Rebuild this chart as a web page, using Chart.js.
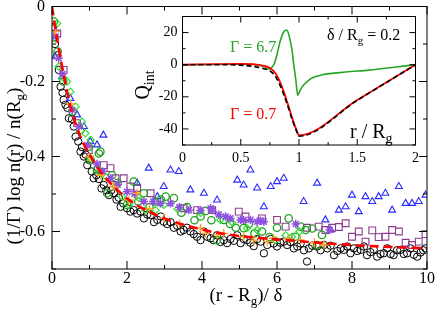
<!DOCTYPE html>
<html><head><meta charset="utf-8">
<script src="https://cdn.jsdelivr.net/npm/chart.js@4/dist/chart.umd.min.js"></script>
<style>
html,body{margin:0;padding:0;background:#fff;}
#wrap{position:relative;width:436px;height:310px;overflow:hidden;}
#main{position:absolute;left:0;top:0;width:436px;height:310px;}
#inset{position:absolute;left:128px;top:8px;width:297px;height:162px;}
</style></head><body>
<div id="wrap"><canvas id="main" width="436" height="310"></canvas><canvas id="inset" width="297" height="162"></canvas></div>
<script>
// ---------- main panel data ----------
const fitX = [0,0.1,0.25,0.5,0.75,1.0,1.25,1.5,1.75,2.0,2.5,3.0,3.5,4.0,4.5,5.0,5.5,6.0,7.0,8.0,9.0,10.0];
const fitY = [0,-0.065,-0.15,-0.27,-0.345,-0.395,-0.435,-0.465,-0.49,-0.512,-0.543,-0.565,-0.582,-0.595,-0.605,-0.612,-0.617,-0.621,-0.629,-0.636,-0.641,-0.645];

const blackX = [0.02,0.08,0.14,0.18,0.23,0.28,0.31,0.36,0.41,0.45,0.53,0.58,0.63,0.70,0.76,0.80,0.85,0.90,0.94,1.00,1.06,1.11,1.18,1.25,1.32,1.38,1.45,1.52,1.58,1.65,1.72,1.78,1.83,1.90,2.00,2.09,2.18,2.27,2.36,2.45,2.54,2.63,2.72,2.81,2.90,2.98,3.07,3.16,3.25,3.34,3.43,3.51,3.60,3.69,3.78,3.87,3.96,4.05,4.14,4.23,4.31,4.40,4.49,4.58,4.67,4.76,4.85,4.94,5.03,5.11,5.20,5.29,5.38,5.47,5.56,5.65,5.74,5.83,5.91,6.00,6.09,6.18,6.27,6.36,6.45,6.54,6.63,6.72,6.80,6.85,6.94,7.07,7.16,7.25,7.34,7.43,7.52,7.61,7.70,7.78,7.87,7.96,8.05,8.14,8.23,8.32,8.40,8.49,8.58,8.67,8.76,8.85,8.94,9.03,9.11,9.20,9.29,9.38,9.47,9.56,9.65,9.74,9.83,9.90,9.96];
const blackY = [-0.055,-0.10,-0.13,-0.169,-0.214,-0.23,-0.249,-0.262,-0.27,-0.298,-0.30,-0.32,-0.347,-0.36,-0.387,-0.375,-0.40,-0.395,-0.423,-0.41,-0.44,-0.458,-0.45,-0.46,-0.485,-0.476,-0.49,-0.503,-0.49,-0.498,-0.515,-0.51,-0.534,-0.525,-0.538,-0.547,-0.543,-0.552,-0.547,-0.565,-0.555,-0.556,-0.575,-0.569,-0.56,-0.574,-0.58,-0.575,-0.59,-0.585,-0.60,-0.596,-0.59,-0.60,-0.607,-0.614,-0.623,-0.60,-0.614,-0.618,-0.623,-0.61,-0.628,-0.623,-0.631,-0.62,-0.625,-0.61,-0.631,-0.62,-0.623,-0.63,-0.639,-0.62,-0.627,-0.658,-0.636,-0.62,-0.632,-0.64,-0.63,-0.627,-0.636,-0.628,-0.645,-0.64,-0.632,-0.65,-0.68,-0.645,-0.638,-0.64,-0.65,-0.636,-0.645,-0.638,-0.663,-0.652,-0.645,-0.649,-0.64,-0.658,-0.645,-0.652,-0.649,-0.64,-0.663,-0.655,-0.648,-0.667,-0.66,-0.658,-0.645,-0.66,-0.663,-0.65,-0.649,-0.66,-0.658,-0.645,-0.662,-0.667,-0.656,-0.65,-0.645];

const greenX = [0.05,0.15,0.30,0.55,0.75,0.98,1.03,1.20,1.25,1.29,1.47,1.60,1.75,2.00,2.18,2.30,2.45,2.60,2.75,2.90,3.03,3.25,3.45,3.60,3.80,3.96,4.10,4.25,4.40,4.58,4.75,4.90,5.11,5.25,5.40,5.60,5.80,6.00,6.31,6.49,6.63,6.76,6.94,7.07,7.20];
const greenY = [-0.04,-0.12,-0.20,-0.28,-0.33,-0.374,-0.409,-0.436,-0.392,-0.387,-0.498,-0.45,-0.47,-0.529,-0.467,-0.52,-0.498,-0.535,-0.52,-0.515,-0.507,-0.511,-0.55,-0.535,-0.57,-0.56,-0.545,-0.57,-0.623,-0.569,-0.58,-0.59,-0.591,-0.58,-0.605,-0.60,-0.615,-0.59,-0.565,-0.614,-0.587,-0.596,-0.592,-0.636,-0.609];

const limeX = [0.09,0.14,0.18,0.30,0.40,0.49,0.63,0.80,0.89,1.03,1.03,1.25,1.45,1.69,1.87,2.05,2.31,2.49,2.76,2.98,3.35,3.96,4.49,4.80,5.20,5.47,5.96,6.23,6.40,6.60];
const limeY = [-0.085,-0.045,-0.16,-0.19,-0.20,-0.227,-0.267,-0.307,-0.338,-0.356,-0.405,-0.44,-0.455,-0.48,-0.507,-0.529,-0.51,-0.543,-0.543,-0.529,-0.54,-0.55,-0.569,-0.575,-0.591,-0.596,-0.623,-0.61,-0.614,-0.60];

const blueX = [0.09,0.27,0.49,0.67,0.85,1.02,1.20,1.37,2.27,2.58,2.81,2.98,3.16,3.38,3.69,4.05,4.40,4.94,5.11,5.29,5.47,5.65,5.83,6.00,6.18,6.71,7.07,7.29,7.43,7.65,7.83,8.00,8.18,8.36,8.54,8.71,8.89,9.07,9.25,9.43,9.60,9.78,9.96];
const blueY = [-0.134,-0.187,-0.245,-0.289,-0.32,-0.36,-0.369,-0.343,-0.471,-0.431,-0.507,-0.48,-0.436,-0.44,-0.489,-0.498,-0.516,-0.463,-0.476,-0.436,-0.484,-0.534,-0.48,-0.467,-0.458,-0.52,-0.471,-0.569,-0.596,-0.543,-0.534,-0.503,-0.547,-0.507,-0.52,-0.507,-0.498,-0.543,-0.48,-0.525,-0.525,-0.52,-0.503];

const squareX = [0.14,0.31,0.67,0.98,1.38,1.56,1.69,1.91,2.09,2.27,2.63,3.51,3.87,4.27,4.98,5.16,5.60,6.00,6.23,6.80,7.11,7.29,7.47,7.65,7.83,8.00,8.18,8.36,8.54,8.71,8.89,9.07,9.25,9.43,9.60,9.78,9.96];
const squareY = [-0.072,-0.169,-0.311,-0.383,-0.423,-0.431,-0.458,-0.458,-0.48,-0.484,-0.498,-0.538,-0.543,-0.543,-0.547,-0.56,-0.565,-0.569,-0.587,-0.59,-0.587,-0.596,-0.59,-0.588,-0.578,-0.614,-0.60,-0.627,-0.597,-0.615,-0.614,-0.596,-0.60,-0.63,-0.636,-0.627,-0.607];

const starX = [0.10,0.18,0.28,0.54,0.72,0.95,1.20,1.35,1.56,1.75,2.00,2.20,2.45,2.70,2.89,3.16,3.40,3.65,3.96,4.23,4.27,4.45,4.63,4.76,5.03,5.11,5.29,5.47,5.56,5.65,6.50,7.40];
const starY = [-0.08,-0.138,-0.18,-0.276,-0.32,-0.37,-0.42,-0.44,-0.458,-0.475,-0.494,-0.50,-0.52,-0.52,-0.525,-0.525,-0.535,-0.543,-0.543,-0.538,-0.543,-0.555,-0.56,-0.565,-0.569,-0.569,-0.569,-0.574,-0.571,-0.574,-0.58,-0.596];

const plusX = [0.09,0.50,1.00,1.30,1.65,2.05,2.27,2.60,2.98,3.40,3.96,4.09,4.40,4.58,5.11,5.38,5.74,5.91,6.30,6.63,7.00,7.25];
const plusY = [-0.067,-0.26,-0.40,-0.45,-0.48,-0.516,-0.498,-0.54,-0.565,-0.58,-0.591,-0.605,-0.609,-0.605,-0.614,-0.623,-0.627,-0.618,-0.62,-0.623,-0.63,-0.636];

const mainXTicks = [0,2,4,6,8,10];
const mainXLabels = ['0','2','4','6','8','10'];
const mainXMinor = [1,3,5,7,9];
const mainYTicks = [0,-0.2,-0.4,-0.6];
const mainYLabels = ['0','-0.2','-0.4','-0.6'];
const mainYMinor = [-0.1,-0.3,-0.5,-0.7];

// ---------- inset data ----------
const refR = [0,0.3,0.5,0.6,0.7,0.75,0.8,0.85,0.9,0.95,0.98,1.0,1.5,2.0];
const refQ = [0,0,-0.3,-1.0,-2.5,-3.8,-7.5,-15,-25,-36,-41.5,-44.5,-22.2,0];
const g07R = [0,0.3,0.5,0.6,0.7,0.75,0.8,0.85,0.9,0.95,0.98,1.0,1.5,2.0];
const g07Q = [0,0.3,0.5,0.3,-0.8,-2,-5.5,-13,-23.5,-35,-41,-44,-22,0];
const g67R = [0,0.4,0.6,0.70,0.74,0.77,0.79,0.81,0.84,0.87,0.895,0.915,0.94,0.955,0.972,0.989,1.0,1.03,1.07,1.12,1.2,1.4,1.6,1.8,2.0];
const g67Q = [0,0.3,0.2,-1.2,-2.8,-1.5,1,6,15,20.5,21.5,18,9,0,-9,-19,-17.5,-13.5,-10.5,-8,-6.3,-4.6,-3.4,-1.8,0];

const insetXTicks = [0,0.5,1,1.5,2];
const insetXLabels = ['0','0.5','1','1.5','2'];
const insetXMinor = [0.25,0.75,1.25,1.75];
const insetYTicks = [20,0,-20,-40];
const insetYLabels = ['20','0','-20','-40'];
const insetYMinor = [30,10,-10,-30,-50];

const FONT = "'Liberation Serif','Times New Roman',serif";
const pts = (xs, ys) => xs.map((x, i) => ({x: x, y: ys[i]}));

function richWidth(ctx, parts){
  let w = 0;
  parts.forEach(p => { ctx.font = p.s + 'px ' + FONT; w += ctx.measureText(p.t).width; });
  return w;
}
function drawRich(ctx, parts, x, y, align){
  const w = richWidth(ctx, parts);
  let cx = align === 'center' ? x - w/2 : (align === 'right' ? x - w : x);
  ctx.textAlign = 'left'; ctx.textBaseline = 'alphabetic';
  parts.forEach(p => {
    ctx.font = p.s + 'px ' + FONT;
    ctx.fillText(p.t, cx, y + (p.dy || 0));
    cx += ctx.measureText(p.t).width;
  });
}

function decoPlugin(o){
  return {
    id: 'deco_' + o.name,
    beforeDatasetsDraw(chart){
      if (!o.fillArea) return;
      const a = chart.chartArea, ctx = chart.ctx;
      ctx.save(); ctx.fillStyle = '#fff';
      ctx.fillRect(a.left, a.top, a.right - a.left, a.bottom - a.top);
      ctx.restore();
    },
    afterDraw(chart){
      const ctx = chart.ctx, a = chart.chartArea, xs = chart.scales.x, ys = chart.scales.y;
      ctx.save();
      ctx.strokeStyle = '#000'; ctx.lineWidth = 1;
      const seg = (x1, y1, x2, y2) => { ctx.beginPath(); ctx.moveTo(x1, y1); ctx.lineTo(x2, y2); ctx.stroke(); };
      const xt = (v, L) => { const p = xs.getPixelForValue(v); seg(p, a.bottom, p, a.bottom - L); seg(p, a.top, p, a.top + L); };
      const yt = (v, L) => { const p = ys.getPixelForValue(v); seg(a.left, p, a.left + L, p); seg(a.right, p, a.right - L, p); };
      o.xMajor.forEach(v => xt(v, o.maj)); o.xMinor.forEach(v => xt(v, o.min));
      o.yMajor.forEach(v => yt(v, o.maj)); o.yMinor.forEach(v => { if (v >= ys.min && v <= ys.max) yt(v, o.min); });
      ctx.strokeRect(a.left, a.top, a.right - a.left, a.bottom - a.top);
      ctx.fillStyle = '#000';
      ctx.font = o.tickSize + 'px ' + FONT;
      ctx.textBaseline = 'middle';
      ctx.textAlign = 'right';
      o.yMajor.forEach((v, i) => ctx.fillText(o.yLabels[i], a.left - o.yPad, ys.getPixelForValue(v)));
      ctx.textAlign = 'center';
      o.xMajor.forEach((v, i) => ctx.fillText(o.xLabels[i], xs.getPixelForValue(v), a.bottom + o.xPad));
      if (o.extra) o.extra(ctx, a);
      ctx.restore();
    }
  };
}

const baseScale = (min, max, extent, isX) => ({
  type: 'linear', min: min, max: max,
  grid: {display: false}, border: {display: false},
  ticks: {display: false},
  afterFit: s => { if (isX) s.height = extent; else s.width = extent; }
});

new Chart(document.getElementById('main'), {
  type: 'scatter',
  data: { datasets: [
    {data: pts(fitX, fitY), showLine: true, borderColor: '#ff0000', borderWidth: 2.6, borderDash: [9, 5], pointRadius: 0, cubicInterpolationMode: 'monotone', fill: false},
    {data: pts(plusX, plusY), pointStyle: 'cross', pointRadius: 4.5, borderColor: '#ffa020', borderWidth: 1.3, backgroundColor: 'rgba(0,0,0,0)'},
    {data: pts(starX, starY), pointStyle: 'star', pointRadius: 4.2, borderColor: '#9050e0', borderWidth: 1.5, backgroundColor: 'rgba(0,0,0,0)'},
    {data: pts(limeX, limeY), pointStyle: 'rectRot', pointRadius: 3.6, borderColor: '#30e030', borderWidth: 1.2, backgroundColor: 'rgba(0,0,0,0)'},
    {data: pts(greenX, greenY), pointStyle: 'circle', pointRadius: 3.7, borderColor: '#20a020', borderWidth: 1.3, backgroundColor: 'rgba(0,0,0,0)'},
    {data: pts(squareX, squareY), pointStyle: 'rect', pointRadius: 4.8, borderColor: '#8c3c8c', borderWidth: 1.1, backgroundColor: 'rgba(0,0,0,0)'},
    {data: pts(blueX, blueY), pointStyle: 'triangle', pointRadius: 4, borderColor: '#2a2aff', borderWidth: 1.1, backgroundColor: 'rgba(0,0,0,0)'},
    {data: pts(blackX, blackY), pointStyle: 'circle', pointRadius: 3.7, borderColor: '#000000', borderWidth: 1, backgroundColor: 'rgba(0,0,0,0)'}
  ]},
  options: {
    responsive: false, animation: false, devicePixelRatio: 1, events: [],
    layout: {padding: {top: 6.5, right: 9, left: 0, bottom: 0}},
    plugins: {legend: {display: false}, tooltip: {enabled: false}},
    scales: {
      x: baseScale(0, 10, 41, true),
      y: baseScale(-0.7, 0, 52, false)
    }
  },
  plugins: [decoPlugin({
    name: 'main', maj: 8, min: 4, tickSize: 16, yPad: 7, xPad: 10,
    xMajor: mainXTicks, xMinor: mainXMinor, yMajor: mainYTicks, yMinor: mainYMinor,
    xLabels: mainXLabels, yLabels: mainYLabels,
    extra(ctx, a){
      ctx.fillStyle = '#000';
      drawRich(ctx, [{t: '(r - R', s: 19}, {t: 'g', s: 13, dy: 4}, {t: ')/ \u03B4', s: 19}], 246, 301, 'center');
      ctx.save();
      ctx.translate(20, 166);
      ctx.rotate(-Math.PI / 2);
      drawRich(ctx, [{t: '(1/\u0393) log n(r) / n(R', s: 19}, {t: 'g', s: 13, dy: 4}, {t: ')', s: 19}], 0, 0, 'center');
      ctx.restore();
    }
  })]
});

new Chart(document.getElementById('inset'), {
  type: 'scatter',
  data: { datasets: [
    {data: pts(refR, refQ), showLine: true, borderColor: '#000000', borderWidth: 1.6, borderDash: [5, 3], pointRadius: 0, cubicInterpolationMode: 'monotone', fill: false},
    {data: pts(g07R, g07Q), showLine: true, borderColor: '#ff0000', borderWidth: 1.8, pointRadius: 0, cubicInterpolationMode: 'monotone', fill: false},
    {data: pts(g67R, g67Q), showLine: true, borderColor: '#26a626', borderWidth: 1.6, pointRadius: 0, cubicInterpolationMode: 'monotone', fill: false}
  ]},
  options: {
    responsive: false, animation: false, devicePixelRatio: 1, events: [],
    layout: {padding: {top: 8.5, right: 9.5, left: 0, bottom: 0}},
    plugins: {legend: {display: false}, tooltip: {enabled: false}},
    scales: {
      x: baseScale(0, 2, 25, true),
      y: baseScale(-50, 30, 54.5, false)
    }
  },
  plugins: [decoPlugin({
    name: 'inset', fillArea: true, maj: 6, min: 3, tickSize: 14, yPad: 5, xPad: 13,
    xMajor: insetXTicks, xMinor: insetXMinor, yMajor: insetYTicks, yMinor: insetYMinor,
    xLabels: insetXLabels, yLabels: insetYLabels,
    extra(ctx, a){
      ctx.fillStyle = '#000';
      drawRich(ctx, [{t: '\u03B4 / R', s: 16}, {t: 'g', s: 11, dy: 4}, {t: ' = 0.2', s: 16}], 199, 32, 'left');
      drawRich(ctx, [{t: 'r / R', s: 20}, {t: 'g', s: 14, dy: 5}], 222, 130, 'left');
      ctx.fillStyle = '#26a626';
      drawRich(ctx, [{t: '\u0393 = 6.7', s: 16}], 102, 44, 'left');
      ctx.fillStyle = '#ff0000';
      drawRich(ctx, [{t: '\u0393 = 0.7', s: 16}], 102, 111, 'left');
      ctx.fillStyle = '#000';
      ctx.save();
      ctx.translate(21, 77);
      ctx.rotate(-Math.PI / 2);
      drawRich(ctx, [{t: 'Q', s: 20}, {t: 'int', s: 14, dy: 5}], 0, 0, 'center');
      ctx.restore();
    }
  })]
});
</script>
</body></html>
